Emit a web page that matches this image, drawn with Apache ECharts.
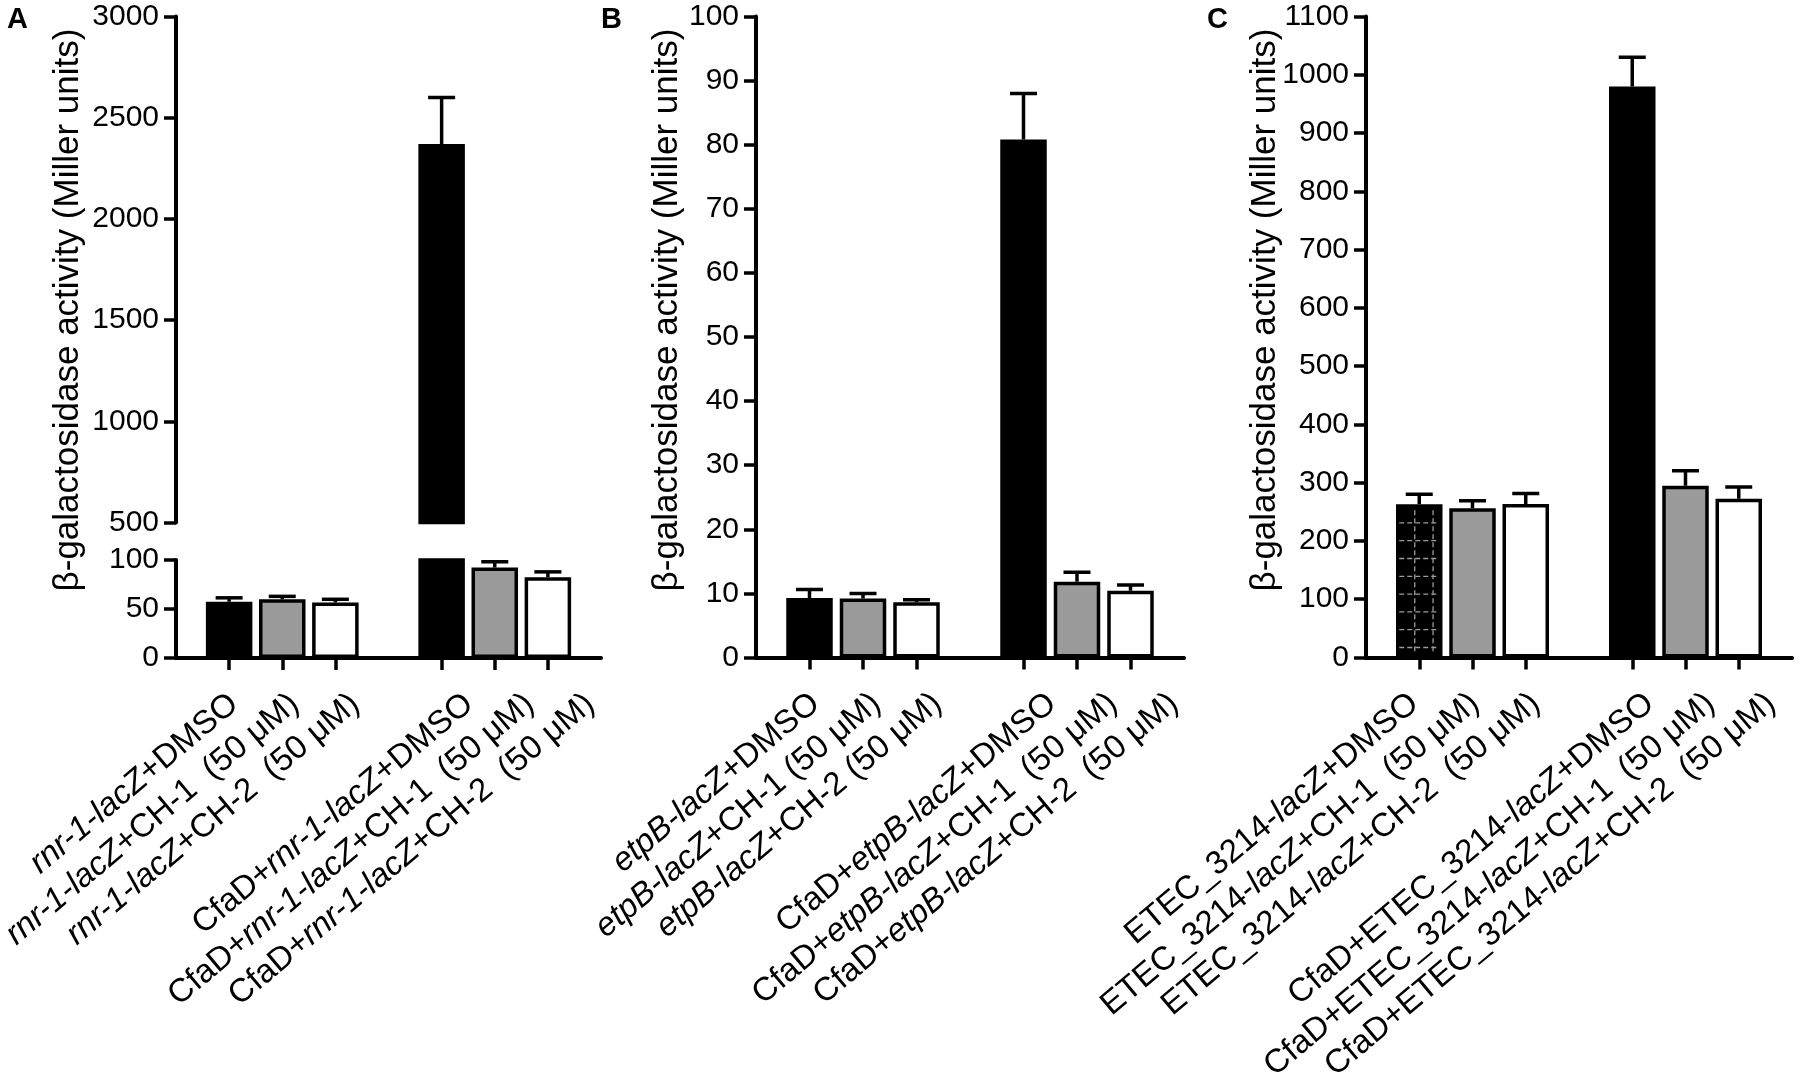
<!DOCTYPE html>
<html>
<head>
<meta charset="utf-8">
<script src="https://cdn.jsdelivr.net/npm/echarts@6/dist/echarts.min.js"></script>
<style>
  html, body { margin: 0; padding: 0; background: #fff; }
  #main { width: 1800px; height: 1077px; }
</style>
</head>
<body>
<div id="main"></div>
<script>
// data
const yTitle = 'β-galactosidase activity (Miller units)';

const labelsA = [
    '{i|rnr-1-lacZ}+DMSO',
    '{i|rnr-1-lacZ}+CH-1  (50 μM)',
    '{i|rnr-1-lacZ}+CH-2  (50 μM)',
    'CfaD+{i|rnr-1-lacZ}+DMSO',
    'CfaD+{i|rnr-1-lacZ}+CH-1  (50 μM)',
    'CfaD+{i|rnr-1-lacZ}+CH-2  (50 μM)'
];
const meansA = [57.4, 59.9, 56.6, 2370, 92.3, 82.4];
const errA = [4.0, 3.0, 3.3, 230, 5.9, 5.5];
const ticksA_low = [0, 50, 100];
const ticksA_high = [500, 1000, 1500, 2000, 2500, 3000];

const labelsB = [
    '{i|etpB-lacZ}+DMSO',
    '{i|etpB-lacZ}+CH-1 (50 μM)',
    '{i|etpB-lacZ}+CH-2 (50 μM)',
    'CfaD+{i|etpB-lacZ}+DMSO',
    'CfaD+{i|etpB-lacZ}+CH-1  (50 μM)',
    'CfaD+{i|etpB-lacZ}+CH-2  (50 μM)'
];
const meansB = [9.3, 9.2, 8.6, 80.8, 11.8, 10.4];
const errB = [1.3, 0.8, 0.4, 7.2, 1.5, 0.9];
const ticksB = [0, 10, 20, 30, 40, 50, 60, 70, 80, 90, 100];

const labelsC = [
    'ETEC_3214-{i|lacZ}+DMSO',
    'ETEC_3214-{i|lacZ}+CH-1  (50 μM)',
    'ETEC_3214-{i|lacZ}+CH-2  (50 μM)',
    'CfaD+ETEC_3214-{i|lacZ}+DMSO',
    'CfaD+ETEC_3214-{i|lacZ}+CH-1  (50 μM)',
    'CfaD+ETEC_3214-{i|lacZ}+CH-2  (50 μM)'
];
const meansC = [263, 256, 263.5, 980, 294.7, 272.4];
const errC = [17, 13, 17.8, 50, 25.9, 20];
const ticksC = [0, 100, 200, 300, 400, 500, 600, 700, 800, 900, 1000, 1100];

// styling
const FONT = "'Liberation Sans', Arial, sans-serif";
const fills = ['#000000', '#9a9a9a', '#ffffff', '#000000', '#9a9a9a', '#ffffff'];
const LABEL_ROT = 40;

// the original labels fan out a little wider than the ticks:
// push label i to the right by a few px, keeping its height
function labelPad(i, base) {
    const s = base + 7.5 * i;
    const r = LABEL_ROT * Math.PI / 180;
    const along = s * Math.cos(r);
    const down = s * Math.sin(r);
    return [2 * down, -along, 0, 0];
}

// 6 bars on a 9-slot axis: empty slot at each end and between the groups
function slotOf(i) { return i < 3 ? i + 1 : i + 2; }
function slots(labels, base) {
    const cats = [{ value: 'gap0' }];
    labels.forEach(function (l, i) {
        if (i === 3) cats.push({ value: 'gap1' });
        cats.push({ value: l, textStyle: { padding: labelPad(i, base) } });
    });
    cats.push({ value: 'gap2' });
    return cats;
}
function barData(means) {
    const d = ['-', '-', '-', '-', '-', '-', '-', '-', '-'];
    means.forEach(function (v, i) {
        d[slotOf(i)] = { value: v, itemStyle: { color: fills[i] } };
    });
    return d;
}
function errData(means, errs) {
    return means.map(function (v, i) { return [slotOf(i), v, v + errs[i]]; });
}

function renderErr(params, api) {
    const p1 = api.coord([api.value(0), api.value(1)]);
    const p2 = api.coord([api.value(0), api.value(2)]);
    const st = { stroke: '#000', lineWidth: 3.5 };
    return {
        type: 'group',
        children: [
            { type: 'line', shape: { x1: p1[0], y1: p1[1], x2: p2[0], y2: p2[1] }, style: st },
            { type: 'line', shape: { x1: p2[0] - 13.5, y1: p2[1], x2: p2[0] + 13.5, y2: p2[1] }, style: st }
        ]
    };
}

// grey dashed grid drawn inside the first bar of panel C
function renderHatch(params, api) {
    const top = api.coord([api.value(0), api.value(1)]);
    const base = api.coord([api.value(0), 0]);
    const left = top[0] - 23, right = top[0] + 23;
    const st = { stroke: '#9c9c9c', lineWidth: 1.3, lineDash: [5, 3] };
    const kids = [];
    for (let y = base[1] - 10; y > top[1] + 6; y -= 17.8) {
        kids.push({ type: 'line', shape: { x1: left + 3, y1: y, x2: right - 3, y2: y }, style: st });
    }
    [18.5, 36.8].forEach(function (dx) {
        kids.push({ type: 'line', shape: { x1: left + dx, y1: top[1] + 6, x2: left + dx, y2: base[1] - 4 }, style: st });
    });
    return { type: 'group', children: kids };
}

const axisLineStyle = { color: '#000', width: 4 };
const tickStyle = { color: '#000', width: 3.5 };

function xAxisFor(gridIndex, labels, show, base) {
    return {
        type: 'category',
        gridIndex: gridIndex,
        data: slots(labels, base),
        boundaryGap: false,
        show: show,
        axisLine: { show: true, lineStyle: axisLineStyle },
        axisTick: {
            show: true, length: 12, lineStyle: tickStyle,
            interval: function (idx, val) { return val.indexOf('gap') !== 0; }
        },
        axisLabel: {
            interval: 0,
            rotate: LABEL_ROT,
            margin: 42,
            color: '#000',
            fontFamily: FONT,
            fontSize: 33,
            formatter: function (val) { return val.indexOf('gap') === 0 ? '' : val; },
            rich: { i: { fontStyle: 'italic', fontFamily: FONT, fontSize: 33, color: '#000' } }
        },
        splitLine: { show: false }
    };
}

function yAxisFor(gridIndex, ticks) {
    return {
        type: 'value',
        gridIndex: gridIndex,
        min: ticks[0],
        max: ticks[ticks.length - 1],
        interval: ticks[1] - ticks[0],
        axisLine: { show: true, lineStyle: axisLineStyle },
        axisTick: { show: true, length: 12, lineStyle: tickStyle },
        axisLabel: {
            color: '#000', fontFamily: FONT, fontSize: 30, margin: 17,
            formatter: function (v) { return String(v); }
        },
        splitLine: { show: false }
    };
}

function barSeries(axisIndex, means) {
    return {
        type: 'bar',
        xAxisIndex: axisIndex,
        yAxisIndex: axisIndex,
        data: barData(means),
        barWidth: 46.5,
        clip: true,
        itemStyle: { borderColor: '#000', borderWidth: 3.5 },
        emphasis: { disabled: true },
        z: 2
    };
}

function errSeries(axisIndex, means, errs) {
    return {
        type: 'custom',
        xAxisIndex: axisIndex,
        yAxisIndex: axisIndex,
        data: errData(means, errs),
        renderItem: renderErr,
        clip: true,
        z: 3
    };
}

function panelText(letter, x) {
    return {
        type: 'text', x: x, y: 5,
        style: { text: letter, fill: '#000', fontSize: 29, fontWeight: 'bold', fontFamily: FONT, align: 'left', verticalAlign: 'top' }
    };
}
function titleText(x) {
    return {
        type: 'text', x: x, y: 310, rotation: Math.PI / 2,
        style: { text: yTitle, fill: '#000', fontSize: 35, fontFamily: FONT, align: 'center', verticalAlign: 'middle' }
    };
}

function gridBox(left, top, width, height) {
    return { left: left, top: top, width: width, height: height, containLabel: false, outerBoundsMode: 'none' };
}

const option = {
    backgroundColor: '#fff',
    animation: false,
    grid: [
        gridBox(176, 16.5, 425, 506),   // A, 500-3000
        gridBox(176, 560, 425, 98),     // A, 0-100
        gridBox(756, 16.5, 428, 641),   // B
        gridBox(1366, 16.5, 426, 641)   // C
    ],
    xAxis: [
        xAxisFor(0, labelsA, false, 5),
        xAxisFor(1, labelsA, true, 5),
        xAxisFor(2, labelsB, true, 6),
        xAxisFor(3, labelsC, true, -5)
    ],
    yAxis: [
        yAxisFor(0, ticksA_high),
        yAxisFor(1, ticksA_low),
        yAxisFor(2, ticksB),
        yAxisFor(3, ticksC)
    ],
    series: [
        barSeries(0, meansA), errSeries(0, meansA, errA),
        barSeries(1, meansA), errSeries(1, meansA, errA),
        barSeries(2, meansB), errSeries(2, meansB, errB),
        barSeries(3, meansC), errSeries(3, meansC, errC),
        {
            type: 'custom', xAxisIndex: 3, yAxisIndex: 3,
            data: [[slotOf(0), meansC[0]]],
            renderItem: renderHatch, clip: true, z: 4
        }
    ],
    graphic: [
        panelText('A', 7), panelText('B', 601), panelText('C', 1207),
        titleText(68), titleText(667), titleText(1265)
    ]
};

const chart = echarts.init(document.getElementById('main'));
chart.setOption(option);
</script>
</body>
</html>
